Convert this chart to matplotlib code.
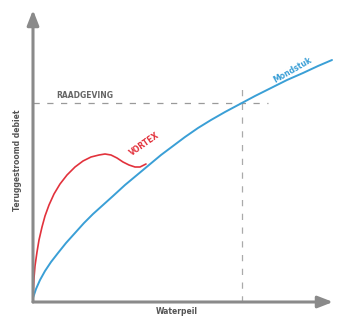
import matplotlib
matplotlib.use("Agg")
import matplotlib.pyplot as plt

# waarden (willekeurige eenheden)
mondstuk_x = [0, 3, 7, 12, 18, 25, 33, 42, 51, 60, 70, 80, 92, 104, 116, 128, 140,
              152, 165, 178, 192, 207, 222, 238, 254, 270, 285, 299]
mondstuk_y = [4, 13, 22, 31, 40, 49, 59, 69, 79, 88, 97, 106, 117, 127, 137, 147, 156,
              165, 174, 182, 190, 198, 206, 214, 222, 229, 236, 242]

vortex_x = [0, 1, 2, 4, 6, 9, 12, 16, 21, 27, 34, 42, 50, 58, 66, 72, 78, 84, 90,
            96, 102, 107, 113]
vortex_y = [4, 24, 36, 50, 62, 75, 86, 97, 108, 118, 127, 135, 141, 145, 147, 148,
            147, 144, 140, 137, 135, 135, 138]

advies_y = 199
advies_x = 209
xmax, ymax = 300, 292

GRAY = "#8a8a8a"
BLUE = "#3a9fd6"
RED = "#e2323c"

fig = plt.figure(figsize=(3.39, 3.2), dpi=100)
ax = fig.add_axes([33 / 339, 18 / 320, 300 / 339, 292 / 320])
ax.set_xlim(0, xmax)
ax.set_ylim(0, ymax)
ax.axis("off")

# assen met pijlen
arrow = dict(arrowstyle="-|>,head_length=0.9,head_width=0.35", color=GRAY, lw=2.2,
             shrinkA=0, shrinkB=0)
ax.annotate("", xy=(xmax, 0), xytext=(0, 0), arrowprops=arrow, annotation_clip=False)
ax.annotate("", xy=(0, ymax), xytext=(0, 0), arrowprops=arrow, annotation_clip=False)

# raadgeving
ax.plot([0, 235], [advies_y, advies_y], color="#9a9a9a", lw=0.9, dashes=(5, 6))
ax.plot([advies_x, advies_x], [0, 215], color="#aaaaaa", lw=0.9, dashes=(5, 6))

ax.plot(vortex_x, vortex_y, color=RED, lw=1.2, solid_capstyle="round",
        solid_joinstyle="round")
ax.plot(mondstuk_x, mondstuk_y, color=BLUE, lw=1.4, solid_capstyle="round",
        solid_joinstyle="round")

ax.text(52, 207, "RAADGEVING", color="#666666", fontsize=5.5, fontweight="bold",
        ha="center", va="center")
ax.text(112, 158, "VORTEX", color=RED, fontsize=5.5, fontweight="bold",
        ha="center", va="center", rotation=35)
ax.text(260, 232, "Mondstuk", color=BLUE, fontsize=5.5, fontweight="bold",
        ha="center", va="center", rotation=30)

ax.text(144, -10, "Waterpeil", color="#555555", fontsize=5.5, fontweight="bold",
        ha="center", va="center")
ax.text(-15, 142, "Teruggestroomd debiet", color="#555555", fontsize=5.5,
        fontweight="bold", ha="center", va="center", rotation=90)

fig.savefig("out.png", dpi=100)
